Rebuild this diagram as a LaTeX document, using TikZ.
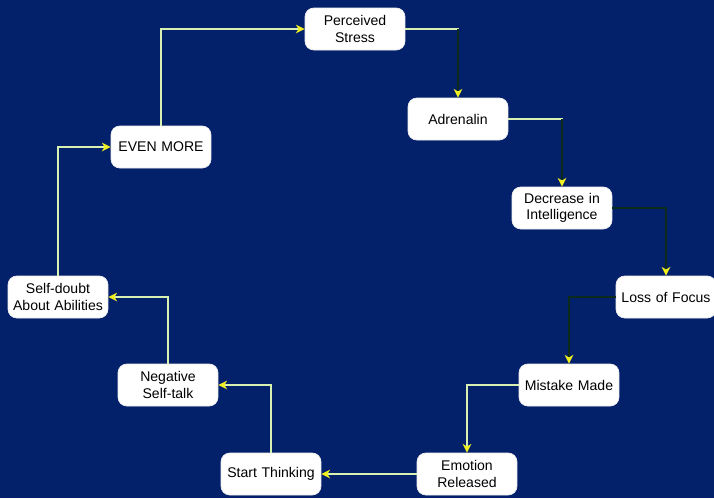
\documentclass[tikz,border=0pt]{standalone}
\usepackage{fontspec}
\setmainfont{Liberation Sans}
\usetikzlibrary{arrows.meta,positioning,calc}

\definecolor{navybg}{HTML}{03206A}
\definecolor{palelink}{HTML}{D8F0B0}
\definecolor{darklink}{HTML}{0C2A1C}
\definecolor{tipyellow}{HTML}{F0F020}

\begin{document}
\begin{tikzpicture}[
        x=0.02cm, y=-0.02cm,
        stage/.style={rectangle, fill=white, draw=white!85!gray, rounded corners=5pt, minimum width=2cm, minimum height=0.84cm, text width=1.9cm, align=center, font=\fontsize{8}{9.5}\selectfont, inner sep=1pt},
        arrow/.style={draw=palelink, line width=0.8pt, -{Stealth[length=5pt, width=5pt, inset=1.5pt, color=tipyellow, fill=tipyellow]}},
        darkarrow/.style={arrow, draw=darklink},
        darkseg/.style={draw=darklink, line width=0.8pt, shorten >=4pt}
    ]
    % background and frame
    \fill [navybg] (0,0) rectangle (714,498);
    \useasboundingbox (0,0) rectangle (714,498);

    % the cycle, clockwise from the top
    \node [stage] (stress) at (355,29) {Perceived\\Stress};
    \node [stage] (adrenalin) at (458,119) {Adrenalin};
    \node [stage] (decrease) at (562,208) {Decrease in\\Intelligence};
    \node [stage] (focus) at (666,297) {Loss of Focus};
    \node [stage] (mistake) at (569,385) {Mistake Made};
    \node [stage] (emotion) at (467,474) {Emotion\\Released};
    \node [stage] (thinking) at (271,474) {Start Thinking};
    \node [stage] (negative) at (168,385) {Negative\\Self-talk};
    \node [stage] (selfdoubt) at (58,297) {Self-doubt\\About Abilities};
    \node [stage] (evenmore) at (161,147) {EVEN MORE};

    % connections
    \path [arrow] (stress.east) -| (adrenalin.north);
    \path [darkseg] (stress.east -| adrenalin.north) -- (adrenalin.north);
    \path [arrow] (adrenalin.east) -| (decrease.north);
    \path [darkseg] (adrenalin.east -| decrease.north) -- (decrease.north);
    \path [darkarrow] (decrease.east) -| (focus.north);
    \path [darkarrow] (focus.west) -| (mistake.north);
    \path [arrow] (mistake.west) -| (emotion.north);
    \path [arrow] (emotion) -- (thinking);
    \path [arrow] (thinking.north) |- (negative.east);
    \path [arrow] (negative.north) |- (selfdoubt.east);
    \path [arrow] (selfdoubt.north) |- (evenmore.west);
    \path [arrow] (evenmore.north) |- (stress.west);

\end{tikzpicture}
\end{document}
